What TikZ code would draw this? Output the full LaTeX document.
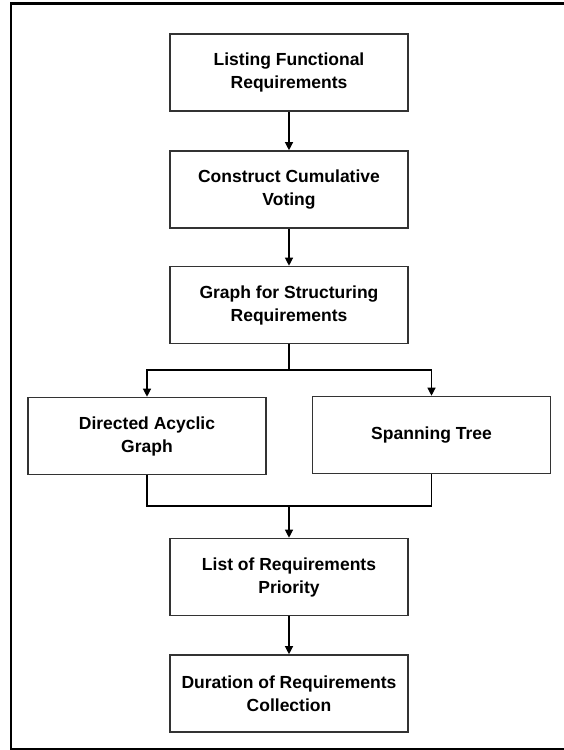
\documentclass[tikz,border=0pt]{standalone}
\usepackage{fontspec}
\setmainfont{Liberation Sans}
\usetikzlibrary{arrows.meta}
\definecolor{boxline}{HTML}{333333}
\tikzset{
  stepbox/.style={draw=boxline, line width=1.6pt, fill=white,
    minimum width=238pt, minimum height=77pt, inner sep=0pt,
    align=center, text=black,
    font=\fontsize{17.5}{23}\selectfont\bfseries},
  link/.style={draw=black, line width=1.2pt},
  arr/.style={link, -{Triangle[length=8pt,width=8pt]}}
}
\begin{document}
\begin{tikzpicture}[x=1pt,y=-1pt]
  \useasboundingbox (0,0) rectangle (563,750);
  % outer frame (right side runs past the page edge)
  \draw[black, line width=2.4pt] (575,3.5) -- (11,3.5) -- (11,749) -- (575,749);

  \node[stepbox] (b1) at (289,72.5) {Listing Functional\\Requirements};
  \node[stepbox] (b2) at (289,189.5) {Construct Cumulative\\Voting};
  \node[stepbox] (b3) at (289,305) {Graph for Structuring\\Requirements};
  \node[stepbox] (dag) at (147,436) {Directed Acyclic\\Graph};
  \node[stepbox] (st) at (431.5,435) {Spanning Tree};
  \node[stepbox] (b5) at (289,577) {List of Requirements\\Priority};
  \node[stepbox] (b6) at (289,693.5) {Duration of Requirements\\Collection};

  \coordinate (split) at (289,370);
  \coordinate (merge) at (289,506);

  \draw[arr] (b1.south) -- (b2.north);
  \draw[arr] (b2.south) -- (b3.north);
  \draw[link] (b3.south) -- (split);
  \draw[arr] (split) -| (dag.north);
  \draw[arr] (split) -| (st.north);
  \draw[link] (dag.south) |- (merge);
  \draw[link] (st.south) |- (merge);
  \draw[arr] (merge) -- (b5.north);
  \draw[arr] (b5.south) -- (b6.north);
\end{tikzpicture}
\end{document}
